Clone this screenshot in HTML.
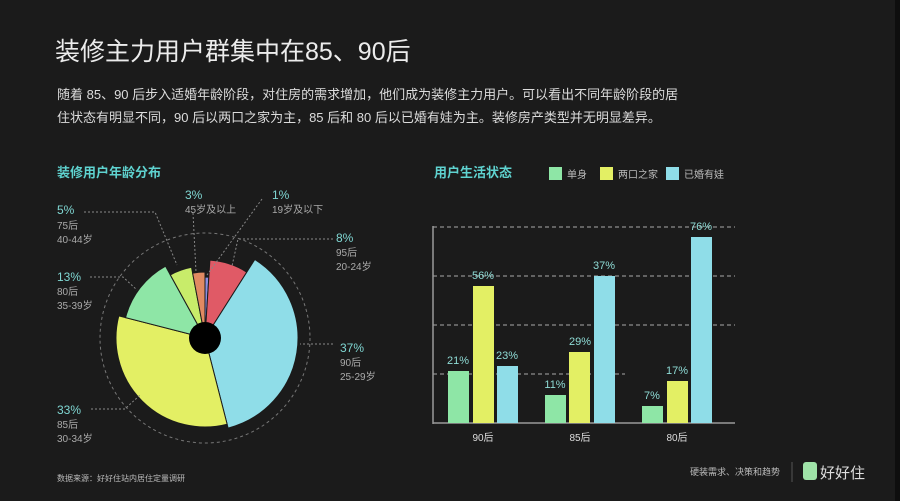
<!DOCTYPE html>
<html><head><meta charset="utf-8"><style>
html,body{margin:0;padding:0;background:#1b1b1b;}
body{width:900px;height:501px;overflow:hidden;position:relative;font-family:"Liberation Sans","Noto Sans CJK SC",sans-serif;}
svg{position:absolute;left:0;top:0}
</style></head><body>
<svg id="s" width="900" height="501" viewBox="0 0 900 501" font-family="Liberation Sans, Noto Sans CJK SC, sans-serif">
<rect width="900" height="501" fill="#1b1b1b"/>
<rect x="895" y="0" width="5" height="501" fill="#0e0e0e"/>
<text x="55" y="60" font-size="25" fill="#ececec">装修主力用户群集中在85、90后</text>
<text x="57" y="99" font-size="13" fill="#dcdcdc">随着 85、90 后步入适婚年龄阶段，对住房的需求增加，他们成为装修主力用户。可以看出不同年龄阶段的居</text>
<text x="57" y="122" font-size="13" fill="#dcdcdc">住状态有明显不同，90 后以两口之家为主，85 后和 80 后以已婚有娃为主。装修房产类型并无明显差异。</text>
<text x="57" y="177" font-size="13" font-weight="bold" fill="#5fd3d0">装修用户年龄分布</text>
<circle cx="205" cy="338" r="105" fill="none" stroke="#777" stroke-width="1" stroke-dasharray="3,3"/>
<g id="pie"></g>
<circle cx="205" cy="338" r="16" fill="#000"/>
<g stroke="#888" stroke-width="1" stroke-dasharray="2,2" fill="none">
<path d="M84 212 H155 L177 265"/>
<path d="M90 277 H123 L137 290"/>
<path d="M91 409 H125 L140 395"/>
<path d="M193 213 L196 272"/>
<path d="M262 199 L207 275"/>
<path d="M333 239 H238 L232 266"/>
<path d="M333 344 H300"/>
</g>
<g font-size="12" fill="#7fd6d2">
<text x="57" y="214">5%</text><text x="57" y="281">13%</text><text x="57" y="414">33%</text>
<text x="185" y="199">3%</text><text x="272" y="199">1%</text><text x="336" y="242">8%</text><text x="340" y="352">37%</text>
</g>
<g font-size="10" fill="#aaa">
<text x="57" y="229">75后</text><text x="57" y="243">40-44岁</text>
<text x="57" y="295">80后</text><text x="57" y="309">35-39岁</text>
<text x="57" y="428">85后</text><text x="57" y="442">30-34岁</text>
<text x="185" y="213">45岁及以上</text><text x="272" y="213">19岁及以下</text>
<text x="336" y="256">95后</text><text x="336" y="270">20-24岁</text>
<text x="340" y="366">90后</text><text x="340" y="380">25-29岁</text>
</g>
<text x="434" y="177" font-size="13" font-weight="bold" fill="#5fd3d0">用户生活状态</text>
<rect x="549" y="167" width="13" height="13" fill="#8ee6a6"/><text x="567" y="178" font-size="10" fill="#bbb">单身</text>
<rect x="600" y="167" width="13" height="13" fill="#e3ef64"/><text x="618" y="178" font-size="10" fill="#bbb">两口之家</text>
<rect x="666" y="167" width="13" height="13" fill="#8fdde8"/><text x="684" y="178" font-size="10" fill="#bbb">已婚有娃</text>
<g stroke="#aaa" stroke-width="1" stroke-dasharray="4,3">
<line x1="433" y1="227" x2="735" y2="227"/><line x1="433" y1="276" x2="735" y2="276"/>
<line x1="433" y1="325" x2="735" y2="325"/><line x1="433" y1="374" x2="625" y2="374"/>
</g>
<line x1="433" y1="226" x2="433" y2="424" stroke="#999" stroke-width="1.5"/>
<line x1="433" y1="423" x2="735" y2="423" stroke="#999" stroke-width="1.5"/>
<g>
<rect x="448" y="371" width="21" height="52" fill="#8ee6a6"/><rect x="473" y="286" width="21" height="137" fill="#e3ef64"/><rect x="497" y="366" width="21" height="57" fill="#8fdde8"/>
<rect x="545" y="395" width="21" height="28" fill="#8ee6a6"/><rect x="569" y="352" width="21" height="71" fill="#e3ef64"/><rect x="594" y="276" width="21" height="147" fill="#8fdde8"/>
<rect x="642" y="406" width="21" height="17" fill="#8ee6a6"/><rect x="667" y="381" width="21" height="42" fill="#e3ef64"/><rect x="691" y="237" width="21" height="186" fill="#8fdde8"/>
</g>
<g font-size="11" fill="#8fdcd6" text-anchor="middle">
<text x="458" y="364">21%</text><text x="483" y="279">56%</text><text x="507" y="359">23%</text>
<text x="555" y="388">11%</text><text x="580" y="345">29%</text><text x="604" y="269">37%</text>
<text x="652" y="399">7%</text><text x="677" y="374">17%</text><text x="701" y="230">76%</text>
</g>
<g font-size="10" fill="#ddd" text-anchor="middle">
<text x="483" y="441">90后</text><text x="580" y="441">85后</text><text x="677" y="441">80后</text>
</g>
<text x="57" y="481" font-size="8" fill="#bbb">数据来源：好好住站内居住定量调研</text>
<text x="780" y="475" font-size="9" fill="#bbb" text-anchor="end">硬装需求、决策和趋势</text>
<line x1="792" y1="462" x2="792" y2="482" stroke="#555"/>
<rect x="803" y="462" width="14" height="18" rx="3" fill="#9fe3a8"/>
<text x="820" y="478" font-size="15" fill="#ddd">好好住</text>
</svg>
<script>
var slices=[[0,1,61,'#8a8ee0'],[1,9,78,'#e05a66'],[9,46,93,'#8fdde8'],[46,79,89,'#e3ef64'],[79,92,82,'#8ee6a6'],[92,97,72,'#c8ec6a'],[97,100,66,'#e08a62']];
var cx=205,cy=338,g=document.getElementById('pie'),h='';
slices.forEach(function(s){var a0=s[0]*3.6*Math.PI/180,a1=s[1]*3.6*Math.PI/180,r=s[2];
var x0=cx+r*Math.sin(a0),y0=cy-r*Math.cos(a0),x1=cx+r*Math.sin(a1),y1=cy-r*Math.cos(a1);
var large=(a1-a0)>Math.PI?1:0;
h+='<path d="M'+cx+' '+cy+' L'+x0+' '+y0+' A'+r+' '+r+' 0 '+large+' 1 '+x1+' '+y1+' Z" fill="'+s[3]+'" stroke="#1b1b1b" stroke-width="1"/>';});
g.innerHTML=h;
</script>
</body></html>
